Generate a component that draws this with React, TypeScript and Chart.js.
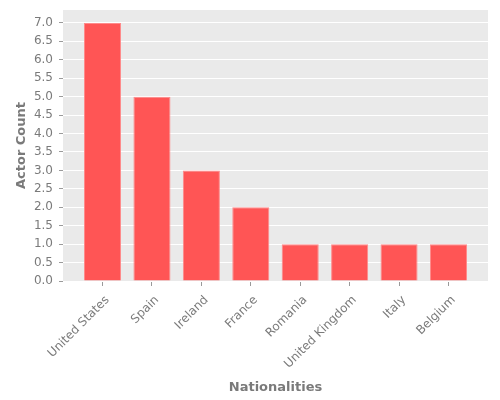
import React, { useEffect, useRef } from 'react';
import Chart from 'chart.js/auto';

const nationalities = ['United States', 'Spain', 'Ireland', 'France', 'Romania', 'United Kingdom', 'Italy', 'Belgium'];
const actorCounts = [7, 5, 3, 2, 1, 1, 1, 1];
const yTickValues = [0, 0.5, 1, 1.5, 2, 2.5, 3, 3.5, 4, 4.5, 5, 5.5, 6, 6.5, 7];

const TEXT = '#7a7a7a';
const FONT = "'DejaVu Sans', sans-serif";

const panelBackground = {
  id: 'panelBackground',
  beforeDraw(chart: Chart) {
    const { ctx, chartArea } = chart;
    ctx.save();
    ctx.fillStyle = '#eaeaea';
    ctx.fillRect(chartArea.left, chartArea.top, chartArea.right - chartArea.left, chartArea.bottom - chartArea.top);
    ctx.restore();
  },
};

const App: React.FC = () => {
  const chartRef = useRef<HTMLCanvasElement>(null);
  const chartInstance = useRef<Chart | null>(null);

  useEffect(() => {
    document.body.style.margin = '0';
    if (!chartRef.current) return;
    if (chartInstance.current) chartInstance.current.destroy();

    chartInstance.current = new Chart(chartRef.current, {
      type: 'bar',
      data: {
        datasets: [{
          data: actorCounts.map((v, i) => ({ x: i, y: v })),
          backgroundColor: '#ff5555',
          borderColor: '#ff8a8a',
          borderWidth: 1,
          barPercentage: 0.75,
          categoryPercentage: 1,
        }],
      },
      options: {
        responsive: false,
        animation: false,
        layout: { padding: { left: 14, right: 12, top: 10, bottom: 5 } },
        plugins: { legend: { display: false }, tooltip: { enabled: false } },
        scales: {
          x: {
            type: 'linear',
            offset: false,
            min: -0.8,
            max: nationalities.length - 0.2,
            afterBuildTicks: (scale: any) => {
              scale.ticks = nationalities.map((_, i) => ({ value: i }));
            },
            afterFit: (scale: any) => {
              scale.height = 114;
              scale.paddingLeft = 0;
              scale.paddingRight = 0;
            },
            grid: { offset: false, drawOnChartArea: false, drawTicks: true, tickLength: 5, color: '#9a9a9a' },
            border: { display: false },
            ticks: {
              autoSkip: false,
              minRotation: 45,
              maxRotation: 45,
              padding: 7,
              labelOffset: 5,
              color: TEXT,
              font: { family: FONT, size: 12 },
              callback: (v: any) => nationalities[v as number],
            },
            title: {
              display: true,
              text: 'Nationalities',
              color: TEXT,
              padding: 0,
              font: { family: FONT, size: 13, weight: 'bold' },
            },
          },
          y: {
            min: 0,
            max: 7.35,
            afterBuildTicks: (scale: any) => {
              scale.ticks = yTickValues.map((v) => ({ value: v }));
            },
            afterFit: (scale: any) => {
              scale.width = 49;
              scale.paddingTop = 0;
              scale.paddingBottom = 0;
            },
            grid: { color: '#ffffff', lineWidth: 1, tickColor: '#9a9a9a', tickLength: 4 },
            border: { display: false },
            ticks: {
              padding: 6,
              color: TEXT,
              font: { family: FONT, size: 12 },
              callback: (v: any) => Number(v).toFixed(1),
            },
            title: {
              display: true,
              text: 'Actor Count',
              color: TEXT,
              padding: 0,
              font: { family: FONT, size: 13, weight: 'bold' },
            },
          },
        },
      },
      plugins: [panelBackground],
    });

    return () => {
      if (chartInstance.current) {
        chartInstance.current.destroy();
        chartInstance.current = null;
      }
    };
  }, []);

  return (
    <div style={{ width: 500, height: 400 }}>
      <canvas ref={chartRef} width={500} height={400}></canvas>
    </div>
  );
};

export default App;
